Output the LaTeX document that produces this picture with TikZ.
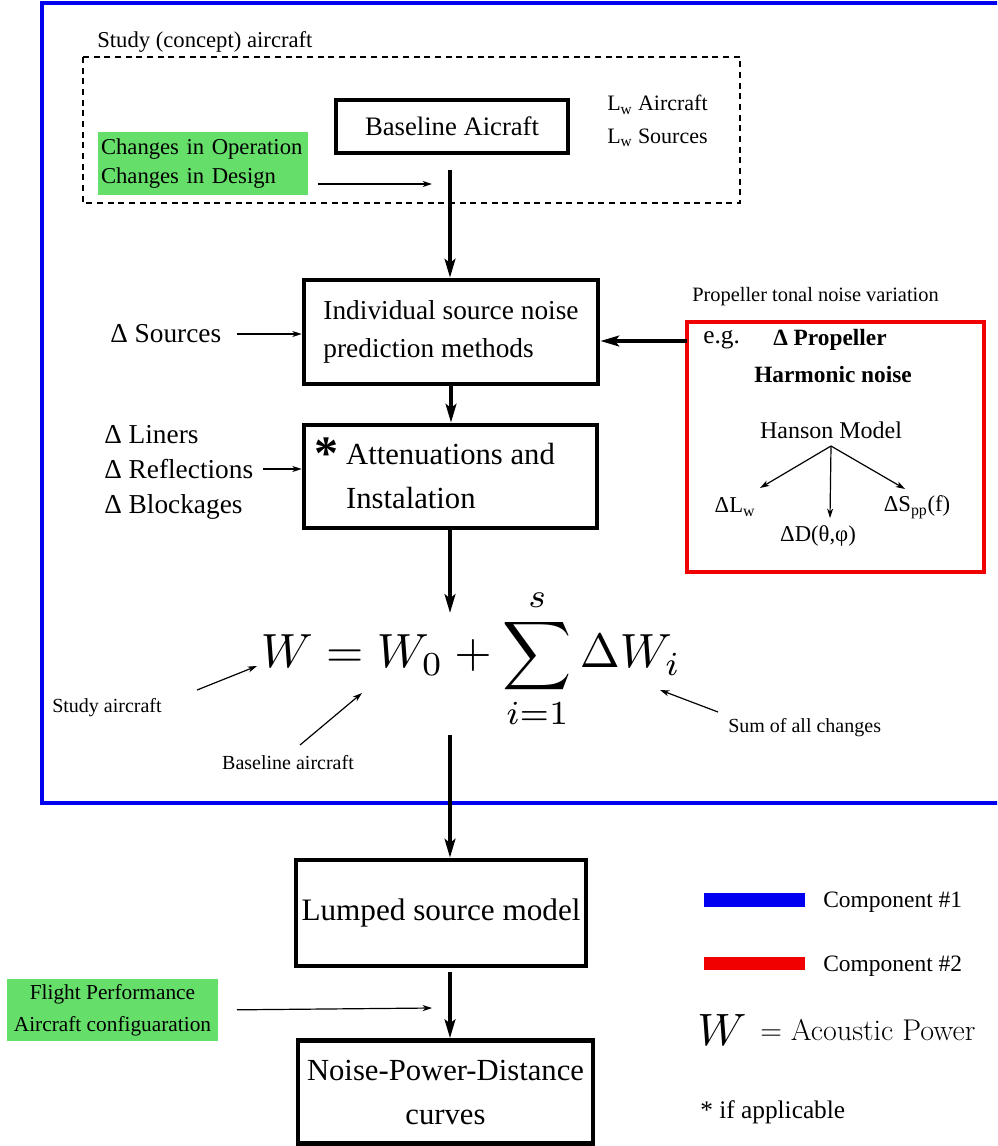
\documentclass[tikz,border=0pt]{standalone}
\usepackage[no-math]{fontspec}
\usepackage{graphicx}
\setmainfont{Liberation Serif}
\newfontfamily\lmr{Latin Modern Roman}
\usetikzlibrary{arrows.meta}
\definecolor{fgreen}{RGB}{102,222,106}
\definecolor{fblue}{RGB}{0,0,240}
\definecolor{fred}{RGB}{240,0,0}
\tikzset{
 box/.style={draw, line width=3.5pt, align=center, inner sep=0pt},
 thickarrow/.style={line width=3pt, -{Stealth[length=14pt,width=8pt,inset=3pt]}},
 thinarrow/.style={line width=0.9pt, -{Stealth[length=7pt,width=4.5pt,inset=2pt]}},
 txt/.style={inner sep=0pt, anchor=west},
 ctxt/.style={inner sep=0pt},
 greenbox/.style={fill=fgreen, inner sep=0pt},
}
\begin{document}
\begin{tikzpicture}[x=0.75pt,y=-0.75pt]
\useasboundingbox (0,0) rectangle (997,1146);
\clip (0,0) rectangle (997,1146);
% component 1 frame
\draw[fblue, line width=3pt] (1020,3) -- (42,3) -- (42,803) -- (1020,803);
% study aircraft dashed box
\draw[line width=1.5pt, dash pattern=on 4.5pt off 3.5pt] (83,57) rectangle (740,203);
\node[txt, font=\fontsize{17}{20}\selectfont] (study) at (97,42) {Study (concept) aircraft};
\node[box, minimum width=174pt, minimum height=39.75pt, font=\fontsize{20}{24}\selectfont] (base) at (452,126.5) {Baseline Aicraft};
\node[txt, font=\fontsize{16.5}{20}\selectfont] (lwa) at (607,105) {L\textsubscript{w} Aircraft};
\node[txt, font=\fontsize{16.5}{20}\selectfont] (lws) at (607,138) {L\textsubscript{w} Sources};
\node[greenbox, align=left, minimum width=157.5pt, minimum height=47.25pt, text width=153pt, font=\fontsize{17}{21.75}\selectfont] (chg) at (203,163.5) {Changes in Operation\\Changes in Design};
\coordinate (chgend) at (432,184);
\draw[thinarrow, shorten <=7pt] (chg.east |- chgend) -- (chgend);
% individual source box
\node[box, minimum width=220.5pt, minimum height=78pt, align=left, font=\fontsize{20.5}{28.5}\selectfont] (indiv) at (451,332) {Individual source noise\\prediction methods};
\coordinate (basestart) at (450,170);
\draw[thickarrow] (basestart) -- (basestart |- indiv.north);
\node[txt, font=\fontsize{20.5}{24}\selectfont] (src) at (110,334) {Δ Sources};
\draw[thinarrow, shorten <=12pt] (src.east) -- (indiv.west |- src.east);
% propeller box
\node[draw=fred, line width=3.5pt, minimum width=222.75pt, minimum height=187.5pt, inner sep=0pt] (prop) at (835.5,447) {};
\node[txt, font=\fontsize{15.3}{18}\selectfont] (ptn) at (692,297) {Propeller tonal noise variation};
\node[txt, font=\fontsize{19}{22}\selectfont] (eg) at (703,340) {e.g.};
\node[txt, font=\bfseries\fontsize{17.5}{21}\selectfont] (dprop) at (773,340) {Δ Propeller};
\node[ctxt, font=\bfseries\fontsize{17.5}{21}\selectfont] (harm) at (833,375) {Harmonic noise};
\node[ctxt, font=\fontsize{18}{21}\selectfont] (hanson) at (831,430) {Hanson Model};
\node[ctxt, font=\fontsize{17}{20}\selectfont] (dlw) at (735,507) {ΔL\textsubscript{w}};
\node[ctxt, font=\fontsize{17}{20}\selectfont] (dd) at (818,536) {ΔD(θ,φ)};
\node[ctxt, font=\fontsize{17}{20}\selectfont] (dspp) at (917,507) {ΔS\textsubscript{pp}(f)};
\coordinate (hroot) at (831,446);
\coordinate (h1) at (760,488);
\coordinate (h2) at (830,518);
\coordinate (h3) at (905,489);
\draw[thinarrow] (hroot) -- (h1);
\draw[thinarrow] (hroot) -- (h2);
\draw[thinarrow] (hroot) -- (h3);
\coordinate (propin) at (687,341);
\draw[thickarrow] (propin) -- (indiv.east |- propin);
% attenuation box
\node[box, minimum width=219.75pt, minimum height=77.25pt, align=left, font=\fontsize{23}{33}\selectfont] (att) at (450.5,476.5) {Attenuations and\\Instalation};
\node[inner sep=0pt, anchor=north west, font=\bfseries\fontsize{36}{36}\selectfont] (star) at (314,438) {*};
\draw[thickarrow] (indiv.south) -- (indiv.south |- att.north);
\node[txt, font=\fontsize{20.5}{24}\selectfont] (lin) at (104,435) {Δ Liners};
\node[txt, font=\fontsize{20.5}{24}\selectfont] (refl) at (104,469) {Δ Reflections};
\node[txt, font=\fontsize{20.5}{24}\selectfont] (blk) at (104,507) {Δ Blockages};
\draw[thinarrow, shorten <=7pt] (refl.east) -- (att.west |- refl.east);
% equation
\coordinate (eqtop) at (450,613);
\draw[thickarrow] (att.south -| eqtop) -- (eqtop);
\node[inner sep=0pt] (eq) at (471,659) {\scalebox{3.6}{$\displaystyle W = W_0 + \sum_{i=1}^{s}\Delta W_i$}};
\node[txt, font=\fontsize{15}{18}\selectfont] (sa) at (52,708) {Study aircraft};
\coordinate (sa1) at (197,690);
\coordinate (sa2) at (257,666);
\draw[thinarrow] (sa1) -- (sa2);
\node[ctxt, font=\fontsize{15}{18}\selectfont] (ba) at (288,763) {Baseline aircraft};
\coordinate (ba1) at (300,745);
\coordinate (ba2) at (362,693);
\draw[thinarrow] (ba1) -- (ba2);
\node[txt, font=\fontsize{15}{18}\selectfont] (sc) at (728,728) {Sum of all changes};
\coordinate (sc1) at (718,712);
\coordinate (sc2) at (660,690);
\draw[thinarrow] (sc1) -- (sc2);
% lumped
\node[box, minimum width=217.5pt, minimum height=79.5pt, font=\fontsize{23.4}{28}\selectfont] (lumped) at (441,913) {Lumped source model};
\coordinate (eqbot) at (450,735);
\draw[thickarrow] (eqbot) -- (eqbot |- lumped.north);
\node[box, minimum width=221.25pt, minimum height=77.25pt, font=\fontsize{23}{33}\selectfont] (npd) at (445.5,1092) {Noise-Power-Distance\\curves};
\coordinate (lumpout) at (450,972);
\draw[thickarrow] (lumpout) -- (lumpout |- npd.north);
\node[greenbox, align=center, minimum width=158.25pt, minimum height=46.5pt, font=\fontsize{16}{24}\selectfont] (fp) at (112.5,1010) {Flight Performance\\Aircraft configuaration};
\coordinate (fpend) at (432,1008);
\draw[thinarrow, shorten <=14pt] (fp.east) -- (fpend);
% legend
\node[fill=fblue, minimum width=75.75pt, minimum height=10.5pt, inner sep=0pt] (lb) at (754.5,900) {};
\node[txt, font=\fontsize{17.6}{20}\selectfont] (c1) at (823,902) {Component \#1};
\node[fill=fred, minimum width=75.75pt, minimum height=10pt, inner sep=0pt] (lr) at (754.5,963.5) {};
\node[txt, font=\fontsize{17.6}{20}\selectfont] (c2) at (823,966) {Component \#2};
\node[inner sep=0pt] (lw) at (722,1030) {\scalebox{3.4}{$W$}};
\node[txt, font=\lmr\fontsize{22.5}{26}\selectfont] (ap) at (760,1030) {= Acoustic Power};
\node[txt, font=\fontsize{19}{22}\selectfont] (ifa) at (700,1112) {* if applicable};
\end{tikzpicture}
\end{document}
